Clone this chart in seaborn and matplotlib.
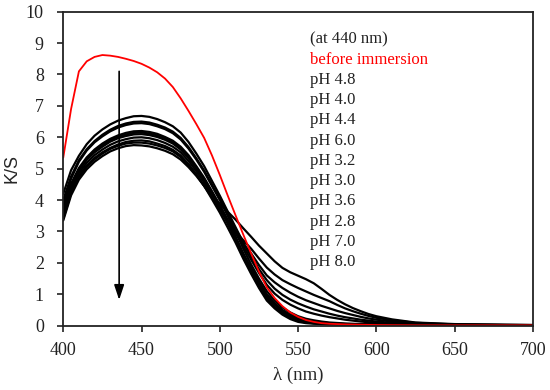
import numpy as np
import pandas as pd
import matplotlib
matplotlib.use("Agg")
import matplotlib.pyplot as plt
import seaborn as sns

wavelength = [400, 405, 410, 415, 420, 425, 430, 435, 440, 445, 450, 455, 460, 465, 470,
              475, 480, 485, 490, 495, 500, 505, 510, 515, 520, 525, 530, 535, 540, 545,
              550, 555, 560, 565, 570, 575, 580, 585, 590, 595, 600, 610, 625, 650, 700]

before_immersion = [5.35, 6.9, 8.1, 8.42, 8.56, 8.62, 8.6, 8.56, 8.5, 8.43, 8.34, 8.22, 8.07,
                    7.87, 7.6, 7.24, 6.84, 6.42, 5.98, 5.42, 4.8, 4.15, 3.52, 2.9, 2.3, 1.72,
                    1.22, 0.88, 0.62, 0.42, 0.28, 0.18, 0.12, 0.08, 0.06, 0.05, 0.04, 0.035,
                    0.03, 0.025, 0.02, 0.015, 0.01, 0.01, 0.01]

ph_labels = ["pH 4.8", "pH 4.0", "pH 4.4", "pH 6.0", "pH 3.2",
             "pH 3.0", "pH 3.6", "pH 2.8", "pH 7.0", "pH 8.0"]

ph_4_8 = [4.2, 4.95, 5.41, 5.78, 6.05, 6.25, 6.41, 6.53, 6.61, 6.67, 6.68, 6.65, 6.58, 6.48,
          6.35, 6.15, 5.85, 5.48, 5.08, 4.61, 4.14, 3.64, 3.14, 2.65, 2.2, 1.8, 1.45, 1.18,
          0.98, 0.83, 0.71, 0.61, 0.52, 0.45, 0.38, 0.32, 0.27, 0.23, 0.19, 0.16, 0.13,
          0.09, 0.05, 0.03, 0.01]
ph_4_0 = [4.0, 4.75, 5.27, 5.62, 5.88, 6.08, 6.24, 6.36, 6.44, 6.49, 6.5, 6.47, 6.4, 6.31,
          6.18, 5.98, 5.69, 5.33, 4.94, 4.49, 4.03, 3.54, 3.0, 2.45, 1.95, 1.5, 1.1, 0.8,
          0.58, 0.42, 0.3, 0.22, 0.17, 0.13, 0.1, 0.085, 0.07, 0.06, 0.05, 0.045, 0.04,
          0.03, 0.02, 0.01, 0.01]
ph_4_4 = [3.9, 4.68, 5.22, 5.58, 5.84, 6.03, 6.19, 6.31, 6.39, 6.44, 6.45, 6.42, 6.35, 6.26,
          6.13, 5.93, 5.64, 5.29, 4.9, 4.45, 4.0, 3.51, 3.0, 2.53, 2.1, 1.68, 1.3, 1.02,
          0.82, 0.67, 0.55, 0.45, 0.38, 0.32, 0.27, 0.23, 0.19, 0.16, 0.13, 0.11, 0.09,
          0.07, 0.04, 0.02, 0.01]
ph_6_0 = [3.8, 4.52, 5.02, 5.36, 5.61, 5.8, 5.95, 6.06, 6.14, 6.19, 6.2, 6.17, 6.11, 6.01,
          5.89, 5.7, 5.43, 5.08, 4.71, 4.28, 3.84, 3.38, 2.95, 2.6, 2.3, 1.93, 1.6, 1.38,
          1.2, 1.05, 0.92, 0.81, 0.72, 0.63, 0.55, 0.47, 0.4, 0.34, 0.28, 0.23, 0.19,
          0.13, 0.07, 0.03, 0.01]
ph_3_2 = [3.7, 4.48, 4.98, 5.32, 5.57, 5.75, 5.9, 6.01, 6.09, 6.14, 6.15, 6.12, 6.06, 5.97,
          5.84, 5.66, 5.38, 5.04, 4.67, 4.24, 3.81, 3.34, 2.85, 2.3, 1.8, 1.35, 0.95, 0.67,
          0.45, 0.3, 0.2, 0.14, 0.11, 0.085, 0.07, 0.06, 0.05, 0.045, 0.04, 0.035, 0.03,
          0.025, 0.02, 0.01, 0.01]
ph_3_0 = [3.6, 4.42, 4.94, 5.28, 5.52, 5.7, 5.86, 5.97, 6.04, 6.09, 6.1, 6.07, 6.01, 5.92,
          5.8, 5.61, 5.34, 5.0, 4.64, 4.21, 3.78, 3.3, 2.8, 2.23, 1.7, 1.25, 0.88, 0.6,
          0.4, 0.25, 0.15, 0.1, 0.08, 0.06, 0.05, 0.045, 0.04, 0.035, 0.03, 0.025, 0.02,
          0.015, 0.01, 0.01, 0.01]
ph_3_6 = [3.55, 4.36, 4.86, 5.19, 5.43, 5.61, 5.76, 5.87, 5.94, 5.99, 6.0, 5.97, 5.91, 5.82,
          5.7, 5.52, 5.25, 4.92, 4.56, 4.14, 3.72, 3.25, 2.75, 2.28, 1.85, 1.4, 1.0, 0.72,
          0.5, 0.35, 0.24, 0.17, 0.13, 0.1, 0.08, 0.065, 0.05, 0.045, 0.04, 0.035, 0.03,
          0.025, 0.02, 0.01, 0.01]
ph_2_8 = [3.45, 4.28, 4.78, 5.1, 5.34, 5.52, 5.66, 5.77, 5.85, 5.89, 5.9, 5.87, 5.8, 5.72,
          5.6, 5.42, 5.15, 4.82, 4.45, 4.03, 3.6, 3.13, 2.65, 2.13, 1.65, 1.2, 0.8, 0.55,
          0.35, 0.21, 0.12, 0.08, 0.06, 0.05, 0.04, 0.035, 0.03, 0.025, 0.02, 0.02, 0.02,
          0.015, 0.01, 0.01, 0.01]
ph_7_0 = [3.4, 4.22, 4.73, 5.06, 5.3, 5.48, 5.63, 5.73, 5.8, 5.83, 5.83, 5.8, 5.74, 5.66,
          5.55, 5.37, 5.12, 4.81, 4.45, 4.08, 3.7, 3.33, 3.0, 2.72, 2.45, 2.14, 1.85, 1.63,
          1.45, 1.32, 1.2, 1.09, 0.98, 0.88, 0.78, 0.66, 0.55, 0.46, 0.38, 0.31, 0.25,
          0.17, 0.09, 0.04, 0.02]
ph_8_0 = [3.35, 4.15, 4.65, 4.98, 5.22, 5.4, 5.55, 5.65, 5.72, 5.75, 5.74, 5.71, 5.65, 5.57,
          5.46, 5.29, 5.05, 4.77, 4.45, 4.15, 3.88, 3.63, 3.38, 3.1, 2.83, 2.55, 2.3, 2.05,
          1.84, 1.7, 1.59, 1.48, 1.35, 1.17, 0.98, 0.82, 0.68, 0.56, 0.46, 0.37, 0.3,
          0.2, 0.1, 0.05, 0.02]

ph_series = [ph_4_8, ph_4_0, ph_4_4, ph_6_0, ph_3_2, ph_3_0, ph_3_6, ph_2_8, ph_7_0, ph_8_0]

x_ticks = [400, 450, 500, 550, 600, 650, 700]
y_ticks = list(range(0, 11))

# long-form table
rows = []
for lab, vals in zip(ph_labels, ph_series):
    for w, v in zip(wavelength, vals):
        rows.append((lab, w, v))
for w, v in zip(wavelength, before_immersion):
    rows.append(("before immersion", w, v))
df = pd.DataFrame(rows, columns=["series", "nm", "ks"])

sns.set_style("ticks")
plt.rcParams["font.family"] = ["Liberation Serif", "DejaVu Serif"]

fig = plt.figure(figsize=(5.5, 3.9), dpi=100)
ax = fig.add_axes([0.115, 0.165, 0.854, 0.805])

palette = {lab: "black" for lab in ph_labels}

sns.lineplot(data=df[df.series != "before immersion"], x="nm", y="ks", hue="series",
             hue_order=ph_labels, palette=palette, legend=False, linewidth=1.6,
             ax=ax)
sns.lineplot(data=df[df.series == "before immersion"], x="nm", y="ks", color="#ff0000",
             legend=False, linewidth=1.3, ax=ax)
for ln in ax.lines:
    ln.set_solid_joinstyle("round")

ax.set_xlim(400, 700)
ax.set_ylim(0, 10)
ax.set_xticks(x_ticks)
ax.set_yticks(y_ticks)
ax.tick_params(direction="out", length=4, width=1.2, labelsize=13, colors="#222222",
               top=False, right=False)
ax.tick_params(axis="x", pad=8)
ax.tick_params(axis="y", pad=10)
for sp in ax.spines.values():
    sp.set_linewidth(1.3)
    sp.set_color("#222222")

ax.set_xlabel("λ (nm)", fontsize=13.5, labelpad=5)
ax.set_ylabel("K/S", fontsize=13, family=["Liberation Sans", "DejaVu Sans"], labelpad=4)

# arrow
ax.annotate("", xy=(435.7, 0.82), xytext=(435.7, 8.1),
            arrowprops=dict(arrowstyle="-|>,head_length=0.9,head_width=0.3",
                            color="black", lw=1.2, shrinkA=0, shrinkB=0))

# label list
labels_text = ["(at 440 nm)", "before immersion"] + ph_labels
colors_text = ["#222222", "#ff0000"] + ["#222222"] * len(ph_labels)
for i, (t, c) in enumerate(zip(labels_text, colors_text)):
    ax.text(557.5, 9.12 - i * 0.645, t, color=c, fontsize=12, va="center", ha="left")

fig.savefig("out.png", dpi=100)
